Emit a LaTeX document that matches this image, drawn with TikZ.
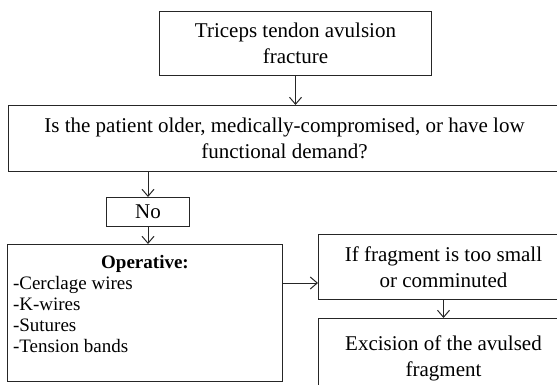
\documentclass[tikz,border=0pt]{standalone}
\usepackage{fontspec}
\setmainfont{Liberation Serif}
\usetikzlibrary{arrows.meta, calc, positioning}

\begin{document}
\begin{tikzpicture}[x=1pt, y=-1pt,
    box/.style={draw=black!85, line width=1pt, inner sep=0pt, anchor=north west,
        align=center, font=\fontsize{21}{26}\selectfont},
    flow/.style={draw=black!85, -{Straight Barb[length=7pt, width=12pt]}, line width=1pt}]
    \def\fragX{318}
    \def\fragW{250}

    \useasboundingbox (0, 0) rectangle (557, 385);

    % Draw decision boxes
    \node[box, minimum width=272pt, minimum height=64pt] (fracture) at (159, 11)
        {Triceps tendon avulsion\\fracture};
    \node[box, minimum width=552pt, minimum height=66pt] (question) at (8, 105)
        {Is the patient older, medically-compromised, or have low\\functional demand?};
    \node[box, minimum width=83pt, minimum height=29pt] (no) at (106, 197) {No};

    % Draw treatment boxes
    \node[box, minimum width=275pt, minimum height=137pt] (operative) at (7, 244)
        {\parbox[c][115pt][t]{264pt}{\fontsize{19}{21}\selectfont\raggedright
        \makebox[\linewidth]{\textbf{Operative:}}\\-Cerclage wires\\-K-wires\\-Sutures\\-Tension bands}};
    \node[box, minimum width=\fragW pt, minimum height=65pt] (fragment) at (\fragX, 234)
        {If fragment is too small\\or comminuted};
    \node[box, minimum width=\fragW pt, minimum height=80pt] (excision) at (\fragX, 318)
        {Excision of the avulsed\\fragment};

    % Draw arrows
    \coordinate (small) at ([yshift=-16pt]fragment.west);
    \draw[flow] (fracture.south) -- (fracture.south |- question.north);
    \draw[flow] (no.north |- question.south) -- (no.north);
    \draw[flow] (no.south) -- (no.south |- operative.north);
    \draw[flow] (operative.east |- small) -- (small);
    \draw[flow] (fragment.south) -- (excision.north);
\end{tikzpicture}
\end{document}
